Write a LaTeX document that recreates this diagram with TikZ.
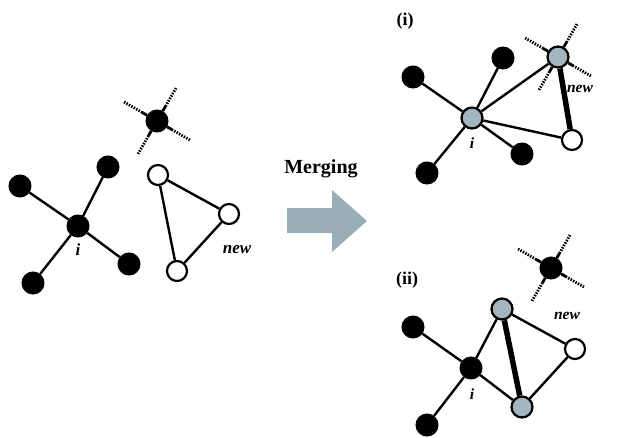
\documentclass[tikz,border=0pt]{standalone}
\usepackage{fontspec}
\setmainfont{Liberation Serif}
\usetikzlibrary{
    positioning,
    backgrounds,
    calc
}
\definecolor{NodeGray}{RGB}{163,181,189}
\definecolor{ArrowGray}{RGB}{154,174,183}

% solid inner part + dashed outer part of the four half-bonds
\newcommand{\crossarms}[1]{%
  \foreach \a in {60,150,240,330} {
    \path (#1) ++(\a:17pt) coordinate (#1-m\a) ++(\a:21pt) coordinate (#1-e\a);
    \draw[armin] (#1) -- (#1-m\a);
    \draw[armout] (#1-m\a) -- (#1-e\a);
  }%
}

\begin{document}
\begin{tikzpicture}[
                    x=1pt, y=-1pt,
                    every node/.style={inner sep=0pt},
                    blk/.style={circle, fill=black, draw=black, line width=1.5pt, minimum size=21.5pt},
                    wht/.style={circle, fill=white, draw=black, line width=2.2pt, minimum size=20pt},
                    gry/.style={circle, fill=NodeGray, draw=black, line width=2.2pt, minimum size=21pt},
                    edge/.style={line width=2.4pt},
                    bond/.style={line width=5.5pt},
                    armin/.style={line width=2.8pt},
                    armout/.style={line width=2.8pt, dash pattern=on 1.5pt off 1.3pt},
                    lab/.style={font=\fontsize{17}{17}\selectfont\bfseries\itshape},
                    slab/.style={font=\fontsize{15.5}{15.5}\selectfont\bfseries\itshape},
                    tag/.style={font=\fontsize{18}{18}\selectfont\bfseries},
                ]
                  \useasboundingbox (0,0) rectangle (618,437);

                  % ---- Left: before merging ----
                  \node[blk] (L-i) at (78,226) {};
                  \node[blk] (L-a) at (20,186) {};
                  \node[blk] (L-b) at (108,167) {};
                  \node[blk] (L-c) at (129,264) {};
                  \node[blk] (L-d) at (33,283) {};
                  \node[lab] (L-il) at (78,250) {i};

                  % detached node with its dangling bonds
                  \node[blk] (L-x) at (157,121) {};

                  % new triangle
                  \node[wht] (L-t1) at (158,175) {};
                  \node[wht] (L-t2) at (229,214) {};
                  \node[wht] (L-t3) at (177,271) {};
                  \node[lab] (L-new) at (237,250) {new};

                  \begin{scope}[on background layer]
                    \foreach \n in {a,b,c,d}
                      \draw[edge] (L-i) -- (L-\n);
                    \draw[edge] (L-t1) -- (L-t2) -- (L-t3) -- (L-t1);
                    \crossarms{L-x}
                  \end{scope}

                  % ---- Merging arrow ----
                  \node[font=\fontsize{20}{20}\selectfont\bfseries] (merge) at (321,169) {Merging};
                  \fill[ArrowGray] (287,208) -- (332,208) -- (332,190) -- (367,221)
                                   -- (332,252) -- (332,233) -- (287,233) -- cycle;

                  % ---- Right (i) ----
                  \node[tag] (tag-i) at (405,21) {(i)};
                  \node[gry] (R1-i) at (472,118) {};
                  \node[blk] (R1-a) at (413,77) {};
                  \node[blk] (R1-b) at (503,58) {};
                  \node[blk] (R1-c) at (522,154) {};
                  \node[blk] (R1-d) at (427,173) {};
                  \node[gry] (R1-x) at (558,57) {};
                  \node[wht] (R1-w) at (572,140) {};
                  \node[slab] (R1-il) at (472,143) {i};
                  \node[slab] (R1-new) at (580,89) {new};

                  \begin{scope}[on background layer]
                    \foreach \n in {a,b,c,d,x,w}
                      \draw[edge] (R1-i) -- (R1-\n);
                    \draw[bond] (R1-x) -- (R1-w);
                    \crossarms{R1-x}
                  \end{scope}

                  % ---- Right (ii) ----
                  \node[tag] (tag-ii) at (407,280) {(ii)};
                  \node[blk] (R2-i) at (471,368) {};
                  \node[blk] (R2-a) at (413,327) {};
                  \node[blk] (R2-d) at (427,425) {};
                  \node[gry] (R2-g1) at (502,309) {};
                  \node[gry] (R2-g2) at (522,407) {};
                  \node[wht] (R2-w) at (575,349) {};
                  \node[blk] (R2-x) at (551,268) {};
                  \node[slab] (R2-il) at (472,394) {i};
                  \node[slab] (R2-new) at (567,316) {new};

                  \begin{scope}[on background layer]
                    \foreach \n in {a,d,g1,g2}
                      \draw[edge] (R2-i) -- (R2-\n);
                    \draw[edge] (R2-g1) -- (R2-w) -- (R2-g2);
                    \draw[bond] (R2-g1) -- (R2-g2);
                    \crossarms{R2-x}
                  \end{scope}
                \end{tikzpicture}
\end{document}
